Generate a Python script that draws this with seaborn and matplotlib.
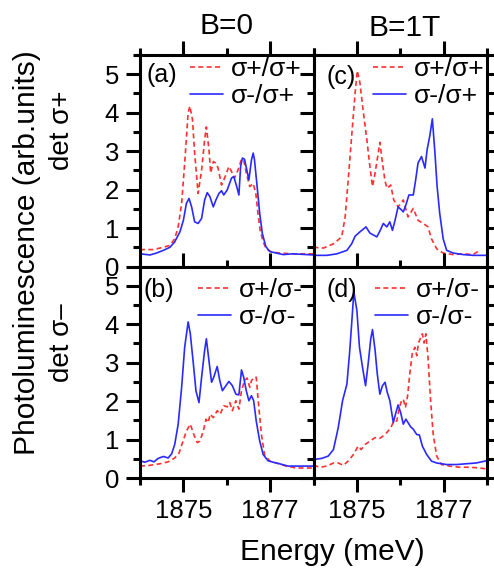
import matplotlib
matplotlib.use("Agg")
import matplotlib.pyplot as plt
from matplotlib.ticker import FixedLocator, MultipleLocator
import seaborn as sns

# ---- data ----
# panel (a): B=0, detected sigma+
e_a_red = [1874.00, 1874.31, 1874.54, 1874.69, 1874.80, 1874.88, 1874.96, 1875.03, 1875.11, 1875.15,
           1875.21, 1875.26, 1875.34, 1875.42, 1875.49, 1875.53, 1875.59, 1875.63, 1875.69, 1875.75,
           1875.80, 1875.88, 1875.95, 1876.05, 1876.11, 1876.18, 1876.26, 1876.34, 1876.39, 1876.45,
           1876.53, 1876.61, 1876.67, 1876.72, 1876.77, 1876.84, 1876.91, 1877.03, 1877.22, 1877.52, 1878.00]
i_a_red = [0.44, 0.44, 0.50, 0.55, 0.72, 1.03, 1.64, 2.69, 4.00, 4.17,
           3.82, 2.95, 1.90, 2.50, 3.30, 3.63, 3.04, 2.43, 2.73, 2.69,
           2.56, 2.12, 2.30, 2.60, 2.47, 2.30, 2.51, 2.79, 2.77, 2.43,
           2.08, 2.16, 1.90, 1.38, 0.94, 0.64, 0.46, 0.38, 0.35, 0.33, 0.33]
e_a_blue = [1874.00, 1874.23, 1874.38, 1874.54, 1874.69, 1874.80, 1874.92, 1875.00, 1875.07, 1875.13,
            1875.19, 1875.26, 1875.34, 1875.42, 1875.49, 1875.55, 1875.61, 1875.69, 1875.75, 1875.82,
            1875.88, 1875.93, 1876.01, 1876.11, 1876.16, 1876.22, 1876.28, 1876.32, 1876.36, 1876.41,
            1876.47, 1876.51, 1876.57, 1876.61, 1876.64, 1876.70, 1876.76, 1876.82, 1876.90, 1876.99,
            1877.14, 1877.30, 1877.52, 1878.00]
i_a_blue = [0.33, 0.30, 0.35, 0.42, 0.50, 0.64, 0.90, 1.20, 1.64, 1.77,
            1.55, 1.16, 1.12, 1.25, 1.73, 1.92, 1.82, 1.55, 1.73, 1.90,
            1.97, 1.86, 1.99, 2.30, 2.34, 2.12, 1.86, 2.60, 2.82, 2.79,
            2.47, 2.25, 2.77, 2.95, 2.77, 2.08, 1.38, 0.86, 0.52, 0.39,
            0.35, 0.31, 0.33, 0.30]

# panel (c): B=1T, detected sigma+
e_c_red = [1874.00, 1874.23, 1874.46, 1874.65, 1874.73, 1874.80, 1874.88, 1874.96, 1875.01, 1875.07,
           1875.15, 1875.23, 1875.30, 1875.36, 1875.42, 1875.48, 1875.53, 1875.59, 1875.65, 1875.70,
           1875.78, 1875.85, 1875.95, 1876.07, 1876.18, 1876.30, 1876.41, 1876.53, 1876.64, 1876.72,
           1876.84, 1876.99, 1877.22, 1877.45, 1877.68, 1877.83]
i_c_red = [0.50, 0.48, 0.59, 0.77, 1.29, 2.25, 3.39, 4.52, 5.09, 4.78,
           4.00, 3.30, 2.60, 2.08, 2.43, 2.86, 3.23, 2.69, 2.21, 2.03,
           2.12, 1.73, 1.55, 1.73, 1.29, 1.51, 1.20, 1.12, 1.03, 0.72,
           0.46, 0.35, 0.31, 0.33, 0.31, 0.42]
e_c_blue = [1874.00, 1874.31, 1874.54, 1874.77, 1874.88, 1874.96, 1875.07, 1875.21, 1875.30, 1875.46,
            1875.53, 1875.61, 1875.69, 1875.76, 1875.82, 1875.88, 1875.95, 1876.02, 1876.07, 1876.13,
            1876.20, 1876.30, 1876.35, 1876.41, 1876.49, 1876.57, 1876.62, 1876.68, 1876.74, 1876.80,
            1876.85, 1876.91, 1876.99, 1877.07, 1877.22, 1877.45, 1877.68, 1878.00]
i_c_blue = [0.29, 0.29, 0.33, 0.42, 0.59, 0.79, 0.90, 1.03, 0.87, 0.77,
            0.92, 1.12, 1.03, 1.16, 0.94, 1.20, 1.55, 1.48, 1.42, 1.60,
            1.86, 1.86, 2.21, 2.69, 2.86, 2.56, 3.04, 3.39, 3.84, 2.95,
            2.08, 1.38, 0.72, 0.42, 0.35, 0.31, 0.29, 0.29]

# panel (b): B=0, detected sigma-
e_b_red = [1874.00, 1874.23, 1874.46, 1874.65, 1874.80, 1874.90, 1874.98, 1875.07, 1875.16, 1875.24,
           1875.32, 1875.38, 1875.46, 1875.52, 1875.57, 1875.62, 1875.69, 1875.78, 1875.85, 1875.93,
           1876.01, 1876.07, 1876.13, 1876.21, 1876.28, 1876.34, 1876.41, 1876.47, 1876.53, 1876.57,
           1876.63, 1876.68, 1876.74, 1876.80, 1876.87, 1876.99, 1877.14, 1877.37, 1877.60, 1878.00]
i_b_red = [0.31, 0.33, 0.37, 0.42, 0.52, 0.65, 0.92, 1.22, 1.40, 1.13,
           0.92, 0.96, 1.22, 1.53, 1.44, 1.66, 1.57, 1.75, 1.66, 1.88,
           1.85, 1.96, 1.75, 2.01, 1.79, 2.27, 2.53, 2.60, 2.36, 2.53,
           2.62, 2.62, 1.83, 1.13, 0.61, 0.44, 0.39, 0.31, 0.26, 0.26]
e_b_blue = [1874.00, 1874.11, 1874.23, 1874.32, 1874.42, 1874.54, 1874.65, 1874.73, 1874.80, 1874.88,
            1874.96, 1875.03, 1875.11, 1875.16, 1875.23, 1875.29, 1875.36, 1875.42, 1875.49, 1875.53,
            1875.59, 1875.65, 1875.70, 1875.78, 1875.84, 1875.90, 1875.98, 1876.05, 1876.13, 1876.21,
            1876.28, 1876.34, 1876.39, 1876.45, 1876.51, 1876.57, 1876.62, 1876.68, 1876.76, 1876.84,
            1876.95, 1877.07, 1877.22, 1877.41, 1877.68, 1878.00]
i_b_blue = [0.45, 0.41, 0.46, 0.42, 0.51, 0.56, 0.52, 0.63, 0.87, 1.40,
            2.36, 3.40, 4.06, 3.75, 2.97, 2.27, 1.96, 2.62, 3.32, 3.62,
            3.05, 2.49, 2.62, 2.90, 2.53, 2.27, 2.40, 2.51, 2.40, 2.18,
            2.16, 2.81, 2.62, 2.27, 2.01, 2.14, 2.01, 1.48, 0.96, 0.61,
            0.45, 0.41, 0.37, 0.31, 0.31, 0.31]

# panel (d): B=1T, detected sigma-
e_d_red = [1874.00, 1874.15, 1874.31, 1874.46, 1874.57, 1874.69, 1874.80, 1874.92, 1875.03, 1875.10,
           1875.19, 1875.30, 1875.42, 1875.53, 1875.65, 1875.72, 1875.80, 1875.85, 1875.92, 1875.98,
           1876.03, 1876.07, 1876.12, 1876.17, 1876.22, 1876.28, 1876.34, 1876.38, 1876.42, 1876.47,
           1876.51, 1876.55, 1876.59, 1876.64, 1876.70, 1876.76, 1876.84, 1876.95, 1877.14, 1877.37,
           1877.60, 1877.83, 1877.97]
i_d_red = [0.33, 0.28, 0.31, 0.39, 0.39, 0.33, 0.44, 0.61, 0.83, 0.74,
           0.87, 0.96, 1.05, 1.03, 1.13, 1.22, 1.35, 1.48, 1.48, 1.83,
           2.01, 2.05, 1.83, 2.14, 2.71, 3.27, 3.40, 3.18, 3.51, 3.65,
           3.75, 3.51, 3.75, 3.14, 2.01, 1.13, 0.57, 0.35, 0.31, 0.28,
           0.28, 0.26, 0.24]
e_d_blue = [1874.00, 1874.19, 1874.34, 1874.46, 1874.57, 1874.67, 1874.77, 1874.83, 1874.88, 1874.93,
            1875.00, 1875.06, 1875.13, 1875.20, 1875.26, 1875.32, 1875.36, 1875.42, 1875.47, 1875.53,
            1875.59, 1875.65, 1875.70, 1875.76, 1875.84, 1875.90, 1875.95, 1876.01, 1876.07, 1876.13,
            1876.18, 1876.24, 1876.30, 1876.38, 1876.44, 1876.51, 1876.61, 1876.72, 1876.84, 1877.07,
            1877.30, 1877.52, 1877.75, 1878.00]
i_d_blue = [0.48, 0.51, 0.57, 0.74, 1.31, 2.01, 2.44, 3.23, 4.01, 4.84,
            4.36, 3.40, 2.88, 2.40, 2.97, 3.62, 3.86, 3.32, 2.71, 2.18,
            2.40, 2.49, 2.23, 2.01, 1.44, 1.70, 1.90, 1.70, 1.40, 1.53,
            1.44, 1.33, 1.27, 1.13, 1.12, 0.83, 0.61, 0.44, 0.39, 0.35,
            0.35, 0.37, 0.39, 0.45]

col_titles = ["B=0", "B=1T"]
row_labels = ["det σ+", "det σ–"]
panel_tags = [["(a)", "(c)"], ["(b)", "(d)"]]
legend_labels = [["σ+/σ+", "σ-/σ+"], ["σ+/σ-", "σ-/σ-"]]
x_major = [1875, 1877]
x_minor = [1874, 1876, 1878]
x_ticklabels = ["1875", "1877"]

# ---- style ----
sns.set_style("ticks")
plt.rcParams["font.family"] = ["Liberation Sans", "DejaVu Sans"]
plt.rcParams["text.color"] = "black"
plt.rcParams["axes.labelcolor"] = "black"
plt.rcParams["xtick.color"] = "black"
plt.rcParams["ytick.color"] = "black"
plt.rcParams["axes.edgecolor"] = "black"

RED = "#ff3030"
BLUE = "#2a2aff"

W, H = 494, 569
fig = plt.figure(figsize=(W / 100, H / 100), dpi=100)
axes = fig.subplots(2, 2)
fig.subplots_adjust(left=140 / W, right=487 / W, top=1 - 55 / H, bottom=1 - 478 / H,
                    wspace=0, hspace=0)

data = {
    (0, 0): (e_a_red, i_a_red, e_a_blue, i_a_blue),
    (0, 1): (e_c_red, i_c_red, e_c_blue, i_c_blue),
    (1, 0): (e_b_red, i_b_red, e_b_blue, i_b_blue),
    (1, 1): (e_d_red, i_d_red, e_d_blue, i_d_blue),
}
leg_anchor = {(0, 0): (50 / 173, 0.99), (0, 1): (60 / 174, 0.99),
              (1, 0): (58 / 173, 0.945), (1, 1): (62 / 174, 0.945)}
tag_pos = {(0, 0): (0.127, 0.905), (0, 1): (0.161, 0.896),
           (1, 0): (0.11, 0.89), (1, 1): (0.161, 0.89)}

for (r, c), (er, ir, eb, ib) in data.items():
    ax = axes[r, c]
    sns.lineplot(x=er, y=ir, ax=ax, color=RED, lw=1.2, linestyle=(0, (3, 2)),
                 label=legend_labels[r][0])
    sns.lineplot(x=eb, y=ib, ax=ax, color=BLUE, lw=1.2, label=legend_labels[r][1])
    ax.set_xlim(1874, 1878)
    ax.set_ylim(0, 5.5)
    ax.xaxis.set_major_locator(FixedLocator(x_major))
    ax.xaxis.set_minor_locator(FixedLocator(x_minor))
    ax.yaxis.set_major_locator(MultipleLocator(1))
    ax.yaxis.set_minor_locator(MultipleLocator(0.5))
    ax.tick_params(which="both", direction="out", top=True, right=True, width=2.2,
                   labelsize=18.5, colors="black")
    ax.tick_params(which="major", length=10, pad=5)
    ax.tick_params(which="minor", length=5)
    for sp in ax.spines.values():
        sp.set_linewidth(2.2)
        sp.set_color("black")
    ax.set_xlabel("")
    ax.set_ylabel("")
    if r == 1:
        ax.set_xticks(x_major)
        ax.set_xticklabels(x_ticklabels)
    else:
        ax.tick_params(labelbottom=False)
    if c == 1:
        ax.tick_params(labelleft=False)
    ax.legend(loc="upper left", bbox_to_anchor=leg_anchor[(r, c)], frameon=False,
              fontsize=19, handlelength=1.25, handletextpad=0.3, labelspacing=0.12,
              borderpad=0, borderaxespad=0, labelcolor="black")
    ax.text(*tag_pos[(r, c)], panel_tags[r][c], transform=ax.transAxes,
            fontsize=18, ha="center", va="center", color="black")

fig.text(226.5 / W, 1 - 26 / H, col_titles[0], fontsize=21.5, ha="center", va="center")
fig.text(405 / W, 1 - 28 / H, col_titles[1], fontsize=21.5, ha="center", va="center")
fig.text(27 / W, 1 - 253 / H, "Photoluminescence (arb.units)", fontsize=21.5,
         rotation=90, ha="center", va="center")
fig.text(62 / W, 1 - 130 / H, row_labels[0], fontsize=20, rotation=90, ha="center", va="center")
fig.text(62 / W, 1 - 343 / H, row_labels[1], fontsize=20, rotation=90, ha="center", va="center")
fig.text(332 / W, 1 - 552 / H, "Energy (meV)", fontsize=21.5, ha="center", va="center")

fig.savefig("out.png", dpi=100)
